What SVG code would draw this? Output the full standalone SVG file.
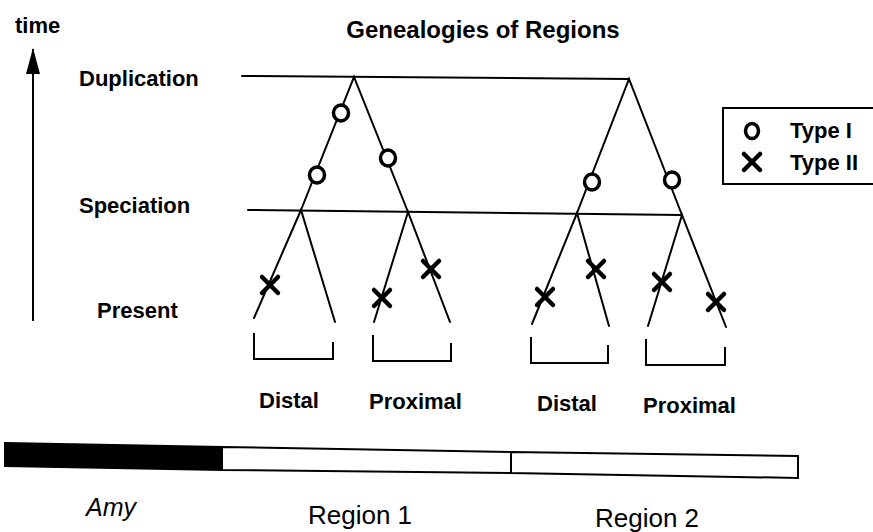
<svg xmlns="http://www.w3.org/2000/svg" xmlns:xlink="http://www.w3.org/1999/xlink" width="873" height="532" viewBox="0 0 873 532">
<style>
  text { font-family: "Liberation Sans", Arial, sans-serif; fill: #000; }
  .lbl { font-size: 22px; font-weight: bold; }
  .title { font-size: 24px; font-weight: bold; }
  .reg { font-size: 26px; }
  .amy { font-size: 25px; font-style: italic; }
  .ln { stroke: #000; stroke-width: 2; fill: none; stroke-linecap: round; }
  .br { stroke: #000; stroke-width: 2; fill: none; }
  .circ { stroke: #000; stroke-width: 3.5; fill: #fff; }
  .xm { stroke: #000; stroke-width: 4.5; stroke-linecap: round; }
</style>
<defs>
  <marker id="arrowhead" markerWidth="26" markerHeight="14" refX="25" refY="7" orient="auto" markerUnits="userSpaceOnUse" viewBox="0 0 26 14">
    <polygon points="26,7 0,0 0,14" fill="#000"/>
  </marker>
  <g id="xmark">
    <line class="xm" x1="-8" y1="-8" x2="8" y2="8"/>
    <line class="xm" x1="8" y1="-8" x2="-8" y2="8"/>
  </g>
</defs>
<rect width="873" height="532" fill="#fff"/>

<g id="time-axis">
  <line x1="33" y1="321" x2="33" y2="49" stroke="#000" stroke-width="2" marker-end="url(#arrowhead)"/>
  <text class="lbl" x="15" y="33">time</text>
</g>

<g id="title"><text class="title" x="483" y="38" text-anchor="middle">Genealogies of Regions</text></g>

<g id="level-labels">
  <text class="lbl" x="79" y="86">Duplication</text>
  <text class="lbl" x="79" y="213">Speciation</text>
  <text class="lbl" x="97" y="318">Present</text>
</g>

<g id="connectors">
  <line class="ln" x1="242" y1="76" x2="629" y2="79"/>
  <line class="ln" x1="248" y1="210" x2="682" y2="215"/>
  <polyline class="ln" points="301,210 354,77 408,212"/>
  <polyline class="ln" points="254,318 301,210 335,322"/>
  <polyline class="ln" points="374,322 408,212 450,322"/>
  <polyline class="ln" points="577,213 629,79 682,215"/>
  <polyline class="ln" points="532,324 577,213 609,326"/>
  <polyline class="ln" points="648,326 682,215 726,327"/>
</g>

<g id="type1-events">
  <ellipse class="circ" cx="341" cy="113" rx="7.5" ry="8"/>
  <ellipse class="circ" cx="317" cy="175" rx="7.5" ry="8"/>
  <ellipse class="circ" cx="388" cy="158" rx="7.5" ry="8"/>
  <ellipse class="circ" cx="592" cy="182" rx="7.5" ry="8"/>
  <ellipse class="circ" cx="672" cy="180" rx="7.5" ry="8"/>
</g>

<g id="type2-events">
  <use xlink:href="#xmark" x="270" y="285"/>
  <use xlink:href="#xmark" x="382" y="298"/>
  <use xlink:href="#xmark" x="431" y="269"/>
  <use xlink:href="#xmark" x="545" y="297"/>
  <use xlink:href="#xmark" x="596" y="269"/>
  <use xlink:href="#xmark" x="662" y="282"/>
  <use xlink:href="#xmark" x="716" y="302"/>
</g>

<g id="brackets">
  <polyline class="br" points="254,333 254,359 333,359 333,342"/>
  <polyline class="br" points="373,335 373,361 451,361 451,343"/>
  <polyline class="br" points="531,337 531,363 608,363 608,345"/>
  <polyline class="br" points="646,339 646,365 725,365 725,347"/>
</g>

<g id="group-labels">
  <text class="lbl" x="259" y="408">Distal</text>
  <text class="lbl" x="369" y="409">Proximal</text>
  <text class="lbl" x="537" y="411">Distal</text>
  <text class="lbl" x="643" y="413">Proximal</text>
</g>

<g id="legend">
  <rect x="723" y="108" width="152" height="76" fill="#fff" stroke="#000" stroke-width="2"/>
  <ellipse class="circ" cx="752" cy="131" rx="6.5" ry="7.5"/>
  <use xlink:href="#xmark" x="752" y="162"/>
  <text class="lbl" x="790" y="138">Type I</text>
  <text class="lbl" x="790" y="170">Type II</text>
</g>

<g id="gene-bar">
  <polygon points="5,443 222,447 222,470 5,466" fill="#000" stroke="#000" stroke-width="2"/>
  <polygon points="222,447 511,452 511,473 222,470" fill="#fff" stroke="#000" stroke-width="2"/>
  <polygon points="511,452 798,456 798,478 511,473" fill="#fff" stroke="#000" stroke-width="2"/>
</g>

<g id="bar-labels">
  <text class="amy" x="86" y="516">Amy</text>
  <text class="reg" x="308" y="524">Region 1</text>
  <text class="reg" x="595" y="527">Region 2</text>
</g>
</svg>
